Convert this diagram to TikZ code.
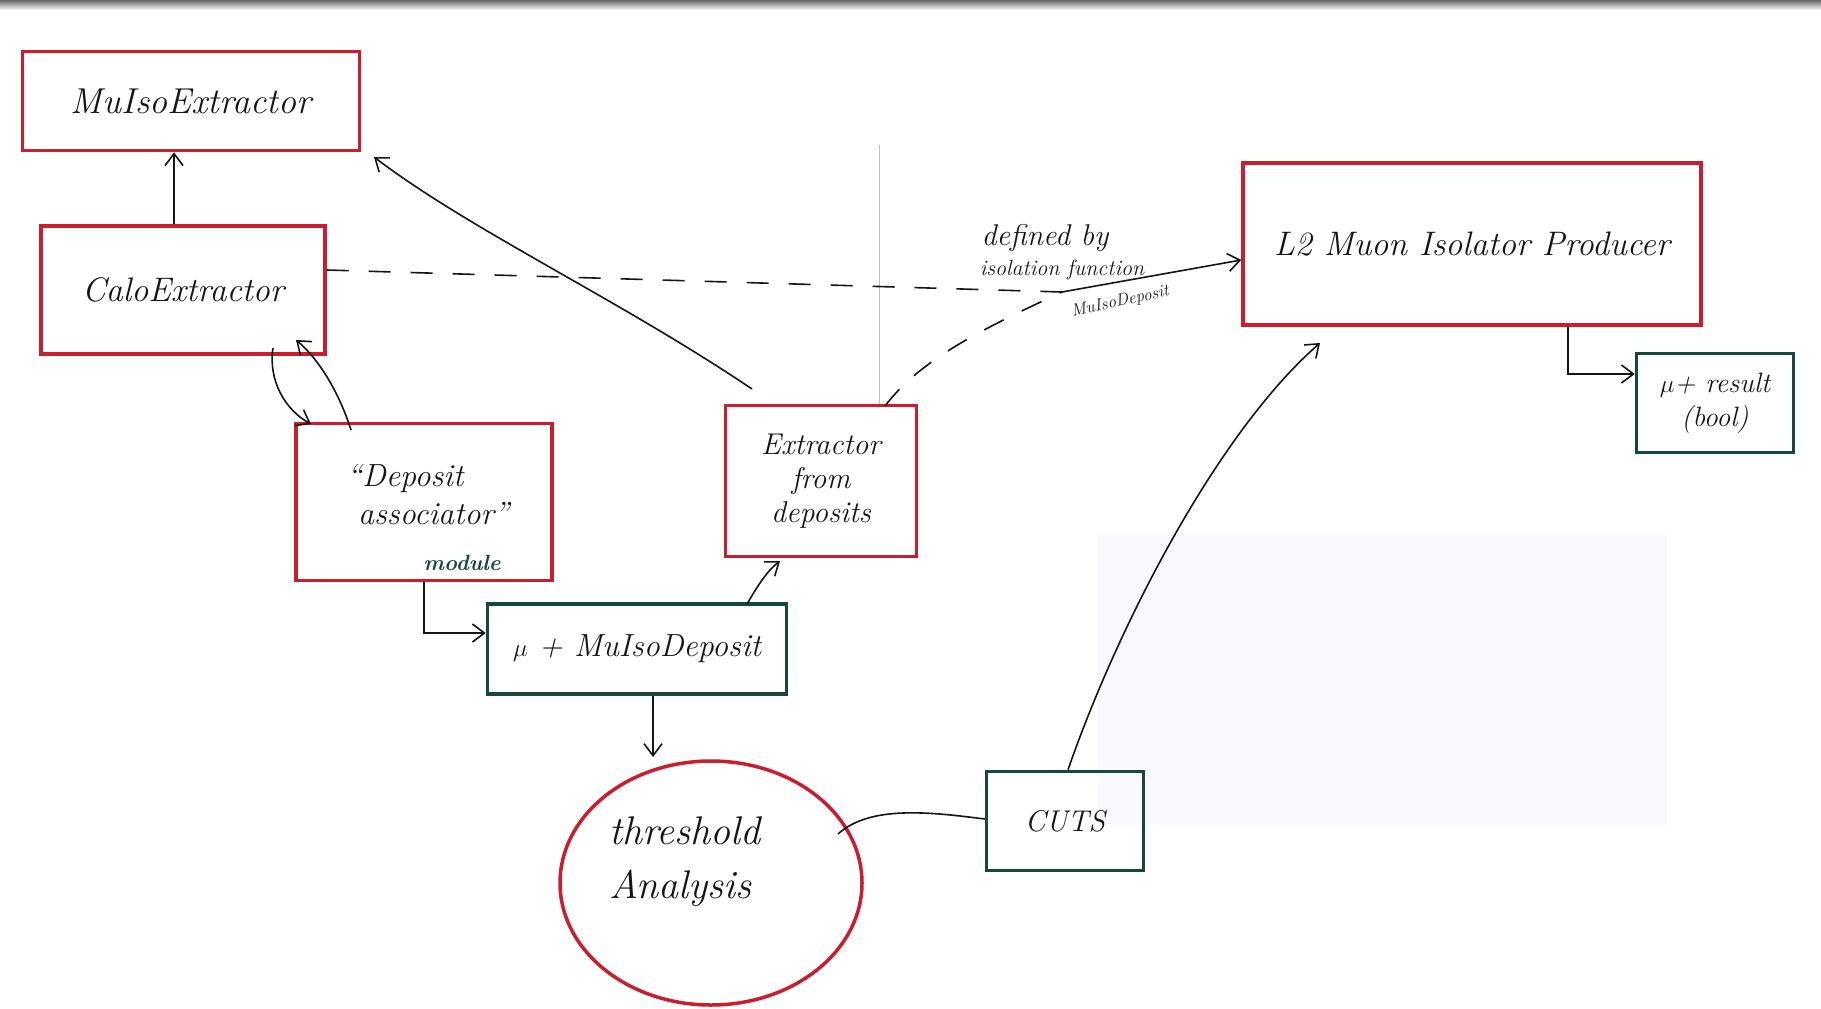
\documentclass[tikz,border=0pt]{standalone}
\usetikzlibrary{arrows.meta,shapes.geometric}
\definecolor{inkred}{RGB}{200,30,45}
\definecolor{inkteal}{RGB}{22,72,62}
\definecolor{ink}{RGB}{20,20,25}
\definecolor{faint}{RGB}{249,248,252}
\tikzset{
  redbox/.style={draw=inkred,line width=3.5pt,rectangle,inner sep=4pt,align=center,text=ink,font=\itshape},
  tealbox/.style={draw=inkteal,line width=3.5pt,rectangle,inner sep=4pt,align=center,text=ink,font=\itshape},
  conn/.style={draw=ink,line width=1.6pt,-{Straight Barb[length=12pt,width=18pt,line width=1.6pt]}},
  plainconn/.style={draw=ink,line width=1.6pt},
  dashconn/.style={draw=ink,line width=1.6pt,dash pattern=on 22pt off 20pt},
  lbl/.style={text=ink,font=\itshape,inner sep=1pt}
}
\begin{document}
\begin{tikzpicture}[x=1pt,y=-1pt]
\useasboundingbox (0,0) rectangle (1821,1009);
\fill[white] (0,0) rectangle (1821,1009);
\shade[top color=black!60,bottom color=white] (0,0) rectangle (1821,10);
\fill[faint] (1098,535) rectangle (1667,825);
\draw[black!25,line width=0.8pt] (879,145) -- (879,406);

% nodes
\node[redbox,minimum width=337pt,minimum height=99pt,font=\itshape\fontsize{36}{40}\selectfont] (mie) at (191,101) {MuIsoExtractor};
\node[redbox,minimum width=284pt,minimum height=128pt,font=\itshape\fontsize{34}{38}\selectfont] (calo) at (183,290) {CaloExtractor};
\node[redbox,minimum width=256pt,minimum height=157pt,font=\itshape\fontsize{32}{38}\selectfont] (dep) at (424,502) {};
\node[lbl,font=\itshape\fontsize{32}{38}\selectfont,align=left] (deptxt) at (428,495) {``Deposit\\ \ associator''};
\node[lbl,text=inkteal,font=\bfseries\itshape\fontsize{22}{24}\selectfont] (depmod) at (462,563) {module};
\node[redbox,minimum width=191pt,minimum height=151pt,font=\itshape\fontsize{30}{34}\selectfont] (efd) at (821,481) {Extractor\\from\\deposits};
\node[tealbox,minimum width=299pt,minimum height=90pt,font=\itshape\fontsize{32}{36}\selectfont] (mud) at (637,649) {$\mu$ + MuIsoDeposit};
\node[ellipse,draw=inkred,line width=3.5pt,minimum width=302pt,minimum height=244pt] (thr) at (711,883) {};
\node[lbl,align=left,font=\itshape\fontsize{40}{54}\selectfont,anchor=west] (thrtxt) at (608,862) {threshold\\Analysis};
\node[tealbox,minimum width=157pt,minimum height=99pt,font=\itshape\fontsize{30}{34}\selectfont] (cuts) at (1065,821) {CUTS};
\node[redbox,minimum width=458pt,minimum height=162pt,font=\itshape\fontsize{34}{38}\selectfont] (l2) at (1472,244) {L2 Muon Isolator Producer};
\node[tealbox,minimum width=157pt,minimum height=99pt,font=\itshape\fontsize{28}{34}\selectfont] (res) at (1715,403) {$\mu$+ result\\ (bool)};

% labels
\node[lbl,font=\itshape\fontsize{30}{34}\selectfont] (lab1) at (1045,238) {defined by};
\node[lbl,font=\itshape\fontsize{22}{26}\selectfont] (lab2) at (1062,270) {isolation function};
\node[lbl,font=\itshape\fontsize{17}{20}\selectfont,rotate=12] (lab3) at (1120,302) {MuIsoDeposit};

% connectors
\coordinate (merge) at (1062,292);
\draw[conn] (calo.north -| 174,0) -- (mie.south -| 174,0);
\draw[conn] (752,389) .. controls (620,300) and (470,230) .. (374,157);
\draw[dashconn] (calo.east |- 0,270) -- (merge);
\draw[dashconn] (885,406) .. controls (920,360) and (980,330) .. (merge);
\draw[conn] (merge) -- (l2.west |- 0,260);
\draw[conn] (273,348) .. controls (268,380) and (285,410) .. (311,424);
\draw[conn] (351,430) .. controls (340,395) and (320,360) .. (296,340);
\draw[conn] (dep.south -| 424,0) |- (mud.west |- 0,633);
\draw[conn] (747,604) .. controls (758,585) and (768,570) .. (780,561);
\draw[conn] (mud.south -| 653,0) -- (653,757);
\draw[plainconn] (838,834) .. controls (870,805) and (930,812) .. (cuts.west |- 0,819);
\draw[conn] (cuts.north -| 1068,0) .. controls (1120,620) and (1220,430) .. (1320,343);
\draw[conn] (l2.south -| 1568,0) |- (res.west |- 0,374);
\end{tikzpicture}
\end{document}
